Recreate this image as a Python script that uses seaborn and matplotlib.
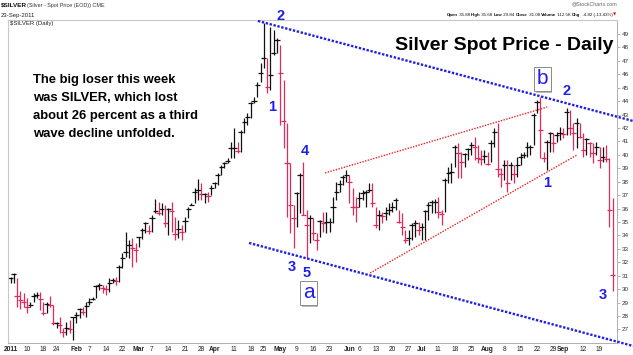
import numpy as np
import pandas as pd
import matplotlib
matplotlib.use("Agg")
import matplotlib.pyplot as plt
import matplotlib.patheffects as pe
import seaborn as sns

# trading calendar (US market holidays skipped)
holidays = ["2011-01-17", "2011-02-21", "2011-04-22", "2011-05-30", "2011-07-04", "2011-09-05"]
dates = pd.bdate_range("2011-01-03", "2011-09-23", freq="C", holidays=holidays)

close = [
    30.85, 31.13, 29.5, 29.2, 29.07, 28.7, 28.8, 29.5, 29.56, 29.25,
    28.25, 28.9, 28.8, 27.46, 27.46, 27.33, 26.8, 27.13, 27.0, 27.95,
    28.08, 28.5, 28.3, 28.77, 29.07, 29.3, 30.26, 30.3, 30.06, 29.99,
    30.48, 30.68, 30.6, 31.63, 32.3, 32.8, 33.3, 33.04, 32.9, 33.86,
    34.4, 34.9, 34.33, 35.27, 35.85, 35.65, 36.0, 34.9, 35.95, 35.8,
    34.1, 34.46, 34.29, 35.07, 36.0, 36.3, 37.2, 37.38, 37.1, 37.12,
    36.9, 37.5, 37.9,
    38.5, 39.1, 39.37, 39.54, 40.5, 40.52, 40.3, 41.7, 42.47, 42.84,
    43.84, 44.0, 45.2, 46.07, 47.19,
    45.08, 45.95, 47.56, 48.55, 46.07, 42.5, 39.37, 36.27, 35.27, 37.14,
    38.5, 35.5, 34.78, 35.27, 34.16, 33.66, 35.1, 34.9, 35.0, 35.02,
    36.14, 37.26, 37.8, 38.37, 38.5, 38.0, 36.14, 36.1, 36.77, 37.14,
    37.26, 37.38, 36.4, 34.78, 35.5, 35.47, 35.7, 35.9, 36.14, 36.64,
    35.03, 34.65, 33.66, 33.8, 34.78, 34.9, 34.4,
    34.65, 35.8, 36.27, 36.5, 36.52, 35.77, 35.6, 38.13, 38.67, 38.74,
    40.6, 40.16, 39.5, 40.06, 40.4, 40.74, 40.6, 39.74, 39.72, 39.9,
    39.3, 40.9, 41.72, 38.95, 38.6, 39.25, 37.9, 39.25, 38.6, 39.25,
    39.87, 40.0, 40.6,
    40.6, 42.97, 43.96, 41.85, 39.74, 40.98, 41.66, 40.9, 41.48, 41.6,
    41.55, 43.2, 41.98, 41.6, 42.35, 41.35, 40.36, 41.15, 40.86, 40.1,
    40.6, 39.6, 39.86, 39.7, 35.9, 31.08,
]
high = [
    30.93, 31.23, 30.85, 29.89, 29.69, 29.32, 29.07, 29.69, 29.81, 29.76,
    29.07, 29.07, 29.49, 28.82, 27.58, 27.95, 27.08, 27.58, 27.7, 27.95,
    28.32, 28.57, 28.7, 29.07, 29.32, 29.44, 30.31, 30.48, 30.31, 30.31,
    30.8, 30.8, 30.93, 31.8, 32.67, 34.28, 33.66, 33.78, 33.41, 33.91,
    34.53, 35.03, 34.78, 35.52, 36.69, 36.52, 36.39, 36.27, 36.02, 36.52,
    35.4, 35.15, 34.78, 35.4, 36.14, 36.39, 37.51, 38.18, 37.88, 37.14,
    37.26, 37.76, 38.0,
    38.62, 39.25, 39.5, 39.74, 40.98, 41.98, 40.98, 41.85, 42.72, 43.09,
    43.96, 44.33, 45.45, 46.82, 49.8,
    47.19, 49.55, 49.3, 48.68, 48.18, 45.57, 42.35, 39.37, 36.3, 37.26,
    38.62, 39.5, 35.9, 35.52, 35.27, 34.16, 35.15, 35.77, 35.77, 35.27,
    36.89, 38.0, 38.13, 38.5, 38.87, 38.5, 37.51, 36.89, 37.26, 37.39,
    37.39, 37.88, 37.88, 36.14, 35.9, 35.77, 36.14, 36.39, 36.52, 36.76,
    35.9, 35.65, 34.4, 34.4, 34.9, 35.15, 35.0,
    34.9, 35.9, 36.52, 36.64, 36.69, 36.89, 35.9, 38.25, 39.12, 39.37,
    40.74, 40.86, 40.24, 40.12, 40.49, 40.98, 41.36, 40.74, 40.36, 40.36,
    40.24, 41.1, 41.98, 42.35, 39.0, 39.62, 39.62, 39.5, 39.25, 39.87,
    40.12, 40.24, 40.98,
    40.73, 43.09, 44.08, 44.33, 40.2, 41.1, 41.73, 41.6, 41.73, 42.1,
    41.98, 43.46, 43.34, 42.35, 42.72, 42.35, 41.6, 41.23, 40.98, 40.86,
    40.98, 40.61, 40.61, 40.73, 39.74, 36.75,
]
low = [
    30.43, 30.43, 28.7, 28.5, 28.7, 28.25, 28.7, 29.07, 29.32, 28.45,
    28.08, 28.2, 28.7, 27.33, 27.08, 26.76, 26.46, 26.59, 26.71, 26.21,
    27.45, 27.83, 28.08, 27.95, 28.82, 29.2, 29.32, 29.94, 29.69, 29.57,
    29.81, 30.43, 30.31, 30.56, 31.55, 32.42, 32.3, 31.67, 32.05, 33.16,
    33.71, 34.16, 34.11, 34.28, 35.65, 35.52, 35.52, 34.65, 34.03, 34.28,
    33.66, 33.78, 33.66, 34.28, 35.27, 36.27, 36.39, 36.64, 36.64, 36.39,
    36.52, 37.01, 37.51,
    37.76, 38.5, 39.0, 39.37, 39.74, 39.74, 40.12, 40.24, 41.6, 42.22,
    42.72, 43.84, 44.33, 45.45, 46.5,
    44.58, 44.83, 47.44, 47.56, 42.22, 40.49, 35.4, 34.16, 33.04, 34.65,
    35.65, 35.52, 32.3, 33.4, 33.66, 32.9, 33.9, 34.28, 34.16, 34.28,
    34.9, 36.64, 37.26, 37.76, 38.0, 36.4, 35.52, 35.03, 36.14, 36.64,
    36.14, 37.26, 36.14, 34.53, 34.4, 34.9, 35.15, 35.52, 35.77, 35.9,
    34.9, 34.03, 33.41, 33.3, 33.66, 33.9, 34.0,
    33.66, 33.66, 35.15, 35.65, 35.65, 35.27, 34.78, 35.77, 37.88, 37.88,
    39.12, 38.25, 38.25, 39.12, 39.62, 39.99, 39.62, 39.37, 39.25, 39.37,
    39.25, 39.5, 40.6, 38.38, 37.63, 38.13, 37.26, 38.13, 37.88, 38.38,
    39.25, 39.74, 39.87,
    39.99, 40.73, 43.09, 39.74, 39.5, 38.87, 40.24, 40.24, 40.98, 41.1,
    41.23, 41.48, 41.48, 40.36, 40.49, 41.23, 39.87, 39.99, 39.87, 39.37,
    39.99, 39.0, 39.5, 39.5, 34.65, 29.84,
]

# x-axis labels
tick_dates = ["2011-01-03", "2011-01-10", "2011-01-18", "2011-01-24", "2011-02-01", "2011-02-07",
              "2011-02-14", "2011-02-22", "2011-03-01", "2011-03-07", "2011-03-14", "2011-03-21",
              "2011-03-28", "2011-04-01", "2011-04-11", "2011-04-18", "2011-04-25", "2011-05-02",
              "2011-05-09", "2011-05-16", "2011-05-23", "2011-06-01", "2011-06-06", "2011-06-13",
              "2011-06-20", "2011-06-27", "2011-07-01", "2011-07-11", "2011-07-18", "2011-07-25",
              "2011-08-01", "2011-08-08", "2011-08-15", "2011-08-22", "2011-08-29", "2011-09-01",
              "2011-09-12", "2011-09-19"]
tick_labels = ["2011", "10", "18", "24", "Feb", "7", "14", "22", "Mar", "7", "14", "21", "28",
               "Apr", "11", "18", "25", "May", "9", "16", "23", "Jun", "6", "13", "20", "27",
               "Jul", "11", "18", "25", "Aug", "8", "15", "22", "29", "Sep", "12", "19"]
price_ticks = list(range(27, 50))

# trend lines (trading day index, price)
channel_top_day, channel_top_price = [75.2, 189.2], [49.97, 42.52]
channel_bot_day, channel_bot_price = [72.5, 189.2], [33.44, 25.77]
wedge_top_day, wedge_top_price = [95.6, 163.1], [38.65, 43.56]
wedge_bot_day, wedge_bot_price = [109.3, 172.2], [31.2, 40.0]

sns.set_theme(style="white")
plt.rcParams["font.family"] = ["Liberation Sans", "DejaVu Sans"]

W, H = 633, 355
fig = plt.figure(figsize=(W / 100, H / 100), dpi=100)
ax = fig.add_axes([8 / W, 12 / H, 609 / W, 323 / H])

df = pd.DataFrame({"date": dates, "high": high, "low": low, "close": close})
df["i"] = np.arange(len(df))
df["dir"] = np.where(df["close"].diff().fillna(0) < 0, "down", "up")
pal = {"up": "#111111", "down": "#e2295f"}

ax.vlines(df["i"], df["low"], df["high"], colors=df["dir"].map(pal), lw=0.9)
sns.scatterplot(data=df, x="i", y="close", hue="dir", palette=pal, marker="_",
                s=14, linewidth=0.9, legend=False, ax=ax)

blue = "#1f1fe8"
for xs, ys in [(channel_top_day, channel_top_price), (channel_bot_day, channel_bot_price)]:
    ax.plot(xs, ys, color=blue, lw=1.7, ls=(0, (1, 0.7)), clip_on=False, zorder=5)
for xs, ys in [(wedge_top_day, wedge_top_price), (wedge_bot_day, wedge_bot_price)]:
    ax.plot(xs, ys, color="#f02020", lw=1.0, ls=(0, (1, 1)), clip_on=False, zorder=5)

ax.set_xlim(-0.76, 184.3)
ax.set_ylim(25.99, 50.04)
ax.set_xlabel("")
ax.set_ylabel("")

pos = dates.get_indexer(pd.to_datetime(tick_dates))
ax.set_xticks(pos)
ax.set_xticklabels(tick_labels)
for t in ax.get_xticklabels():
    if not t.get_text().isdigit() or t.get_text() == "2011":
        t.set_fontweight("bold")
ax.tick_params(axis="x", length=0, pad=2.5, labelsize=4.8, labelcolor="#222222")

ax.yaxis.tick_right()
ax.set_yticks(price_ticks)
ax.tick_params(axis="y", right=True, length=2, width=0.5, color="#999999", pad=1.2,
               labelsize=4.6, labelcolor="#333333")

for side in ["left", "top"]:
    ax.spines[side].set_color("#c8c8c8")
    ax.spines[side].set_linewidth(0.8)
for side in ["right", "bottom"]:
    ax.spines[side].set_color("#b0b0b0")
    ax.spines[side].set_linewidth(0.7)
    ax.spines[side].set_linestyle((0, (1, 1)))


def fx(x):
    return x / W


def fy(y):
    return 1 - y / H


# header
fig.text(fx(1), fy(5), "$SILVER", fontsize=4.6, weight="bold", va="center", color="#111111")
fig.text(fx(27), fy(5.5), "(Silver - Spot Price (EOD)) CME", fontsize=3.9, va="center", color="#333333")
fig.text(fx(1), fy(15), "23-Sep-2011", fontsize=4.3, va="center", color="#222222")
fig.text(fx(10), fy(24), "$SILVER (Daily)", fontsize=4.3, va="center", color="#222222")
fig.text(fx(617), fy(4), "@StockCharts.com", fontsize=3.8, ha="right", va="center", color="#666666")

# quote line, laid out right to left so it ends at the plot edge
pieces = [("Open", "bold"), (" 35.88 ", "normal"), ("High", "bold"), (" 35.68 ", "normal"),
          ("Low", "bold"), (" 29.84 ", "normal"), ("Close", "bold"), (" 31.08 ", "normal"),
          ("Volume", "bold"), (" 112.5K ", "normal"), ("Chg", "bold"), (" -4.82 (-13.43%)", "normal")]
renderer = fig.canvas.get_renderer()
arrow = fig.text(fx(616), fy(15), "\u25bc", fontsize=3, ha="right", va="center",
                 color="#dd1111", family="DejaVu Sans")
xpos = 616 - arrow.get_window_extent(renderer).width - 0.5
for txt, w in reversed(pieces):
    t = fig.text(fx(xpos), fy(15), txt, fontsize=3.2, weight=w, ha="right", va="center", color="#111111")
    xpos -= t.get_window_extent(renderer).width

# chart texts
fig.text(fx(504), fy(45), "Silver Spot Price - Daily", fontsize=14, weight="bold",
         ha="center", va="center", color="#000000")
fig.text(fx(33), fy(74), "The big loser this week\nwas SILVER, which lost\nabout 26 percent as a third\nwave decline unfolded.",
         fontsize=9.4, weight="bold", ha="left", va="top", linespacing=1.68, color="#000000")

waves = [("2", 281, 16), ("1", 272, 107), ("4", 305, 151), ("3", 292, 267), ("5", 307, 273),
         ("2", 567, 91), ("1", 547, 183), ("3", 603, 295)]
for s, x, y in waves:
    fig.text(fx(x), fy(y), s, fontsize=10.5, weight="bold", color=blue, ha="center", va="center")

for s, x, y in [("a", 308.5, 293), ("b", 542.5, 79)]:
    t = fig.text(fx(x), fy(y), s, fontsize=15, color=blue, ha="center", va="center",
                 bbox=dict(boxstyle="square,pad=0.12", fc="white", ec="#8a8a8a", lw=0.7))
    t.get_bbox_patch().set_path_effects([pe.SimplePatchShadow(offset=(1.2, -1.2), shadow_rgbFace="#aaaaaa", alpha=0.8),
                                         pe.Normal()])

fig.savefig("out.png", dpi=100)
